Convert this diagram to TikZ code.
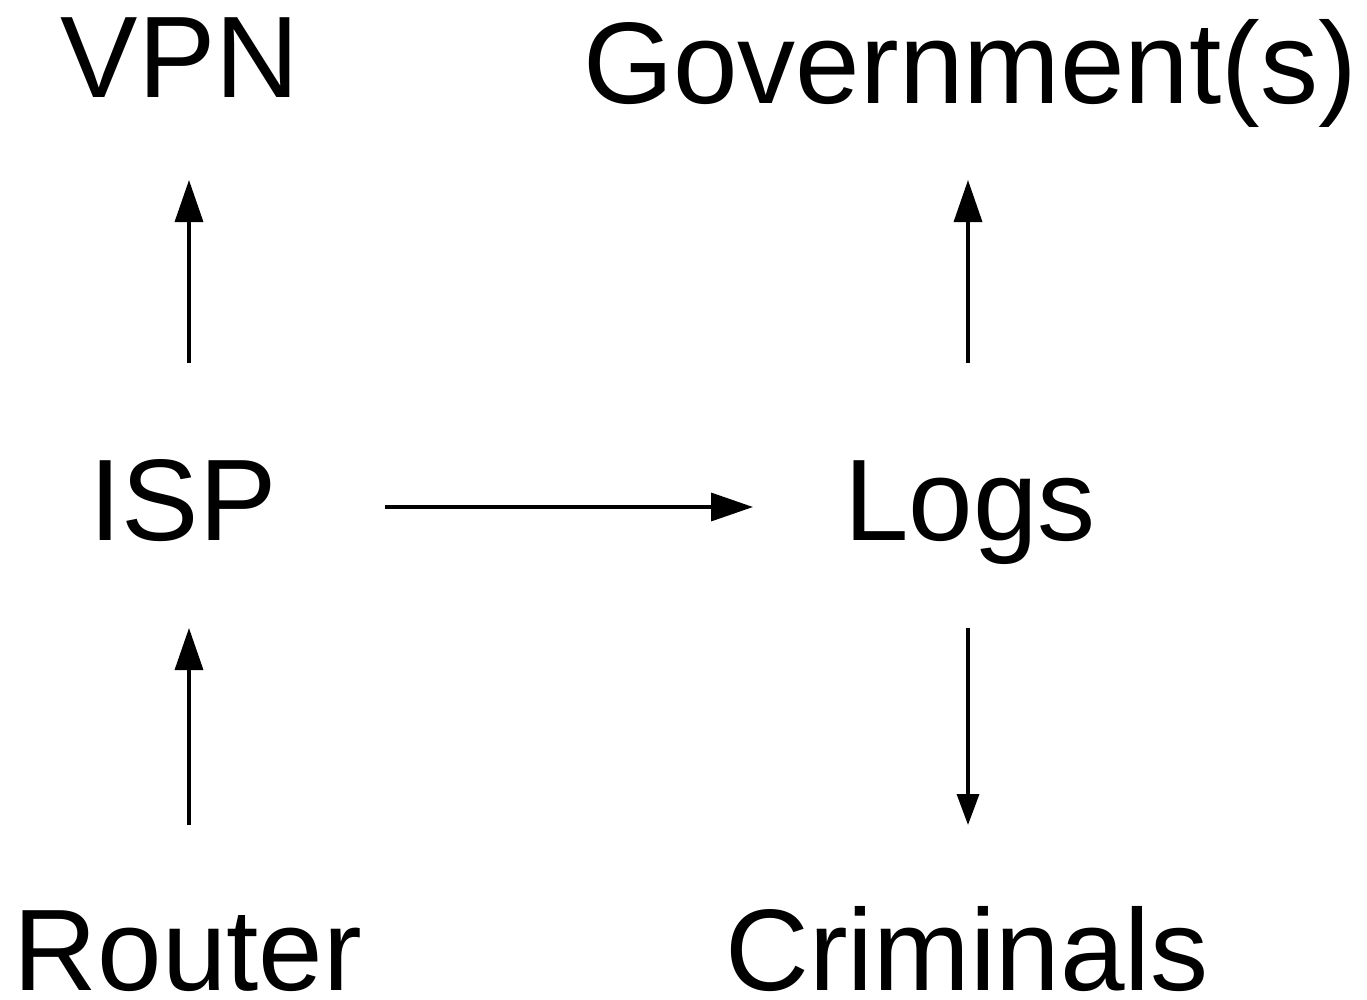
\documentclass[tikz,border=0pt]{standalone}
\usepackage{fontspec}
\setmainfont{Liberation Sans}
\usetikzlibrary{arrows.meta}
\begin{document}
\begin{tikzpicture}[x=1pt,y=1pt,
  lbl/.style={anchor=base,inner sep=0pt,font=\fontsize{116}{120}\selectfont},
  arr/.style={line width=3.5pt,-{Triangle[length=42pt,width=28pt]}},
  arrsm/.style={line width=3.5pt,-{Triangle[length=31pt,width=22pt]}}]
\useasboundingbox (0,0) rectangle (1367,-999);
\node[lbl] (vpn) at (180,-97) {VPN};
\node[lbl] (govt) at (970,-103) {Government(s)};
\node[lbl] (isp) at (183,-540) {ISP};
\node[lbl] (logs) at (970,-540) {Logs};
\node[lbl] (router) at (188,-990) {Router};
\node[lbl] (crim) at (967,-990) {Criminals};
\draw[arr] ([shift={(6pt,177pt)}]isp.base) -- ([shift={(9pt,-83pt)}]vpn.base);
\draw[arr] ([shift={(1pt,165pt)}]router.base) -- ([shift={(6pt,-88pt)}]isp.base);
\draw[arr] ([shift={(202pt,33pt)}]isp.base) -- ([shift={(-217pt,33pt)}]logs.base);
\draw[arr] ([shift={(-2pt,177pt)}]logs.base) -- ([shift={(-2pt,-77pt)}]govt.base);
\draw[arrsm] ([shift={(-2pt,-88pt)}]logs.base) -- ([shift={(1pt,165pt)}]crim.base);
\end{tikzpicture}
\end{document}
